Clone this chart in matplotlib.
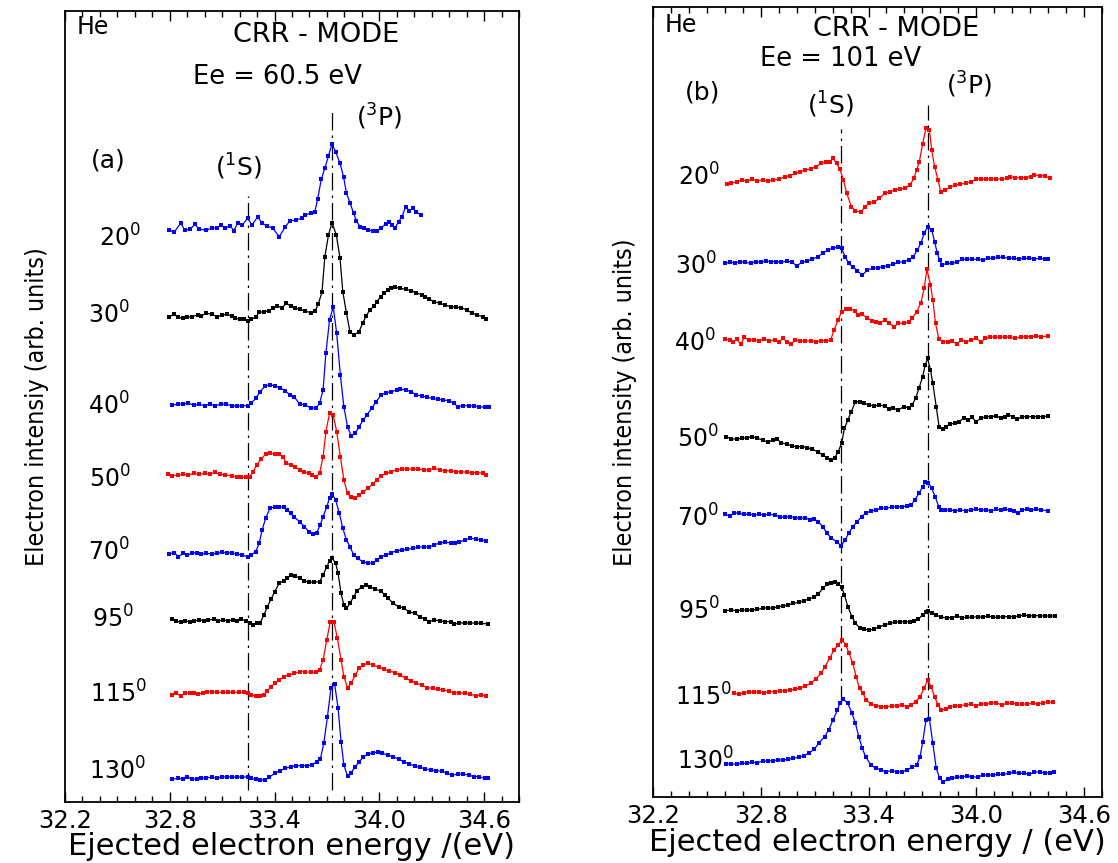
import matplotlib.pyplot as plt
from matplotlib.ticker import MultipleLocator, FormatStrFormatter

# ---------------- panel (a): Ee = 60.5 eV ----------------
a20_e = [32.798, 32.825, 32.862, 32.886, 32.917, 32.944, 32.969, 33.010, 33.041, 33.072,
         33.092, 33.119, 33.144, 33.168, 33.189, 33.215, 33.246, 33.271, 33.304, 33.329,
         33.359, 33.390, 33.427, 33.462, 33.489, 33.524, 33.555, 33.575, 33.606, 33.631,
         33.647, 33.668, 33.688, 33.709, 33.729, 33.750, 33.775, 33.795, 33.812, 33.832,
         33.853, 33.869, 33.890, 33.914, 33.935, 33.966, 33.986, 34.007, 34.038, 34.058,
         34.073, 34.089, 34.110, 34.130, 34.151, 34.171, 34.192, 34.212, 34.237]
a20_i = [633, 630.7, 639.7, 633, 633.7, 638.7, 633.7, 633, 634.7, 635.3,
         638, 634.7, 637.3, 632.3, 640.3, 638, 644.7, 638, 646.3, 639.7,
         637, 634.7, 626.3, 636.3, 642.3, 643, 644.7, 648, 649.7, 651.3,
         664, 684, 694.7, 707.3, 719, 711.3, 699.7, 686.3, 669.7, 660.3,
         649.7, 642, 636.3, 634.7, 633, 632, 632, 634.7, 639, 641.3,
         638, 634.7, 641.3, 646.3, 656.3, 652.3, 654.7, 651.3, 648]

a30_e = [32.798, 32.825, 32.850, 32.876, 32.901, 32.928, 32.959, 32.979, 33.010, 33.041, 33.072,
         33.098, 33.127, 33.154, 33.174, 33.201, 33.226, 33.246, 33.267, 33.292,
         33.312, 33.339, 33.366, 33.390, 33.415, 33.442, 33.468, 33.493, 33.518, 33.544,
         33.575, 33.606, 33.633, 33.651, 33.672, 33.688, 33.709, 33.729, 33.754, 33.775,
         33.791, 33.812, 33.832, 33.853, 33.884, 33.904, 33.925, 33.945, 33.970, 33.986,
         34.007, 34.027, 34.048, 34.068, 34.089, 34.120, 34.151, 34.182, 34.213, 34.243,
         34.264, 34.284, 34.315, 34.346, 34.377, 34.408, 34.439, 34.470, 34.501, 34.531,
         34.562, 34.593, 34.613]
a30_i = [546.3, 548.7, 545.7, 544.7, 545.7, 546.3, 548, 547, 549.7, 548.7, 546.3,
         548, 548.7, 547, 544.7, 544, 543.7, 542.3, 544, 545.7,
         550.7, 551.3, 552, 554.7, 557, 555.3, 559.7, 557, 554.7, 553.7,
         552, 550.3, 552.3, 559, 571.3, 606.3, 628, 640.3, 628, 604.7,
         571.3, 549.7, 531.3, 528, 531.3, 539.7, 547, 553, 557, 561.3,
         566.3, 569.7, 573, 574.7, 575.7, 574.7, 573.7, 572.3, 570.3, 568,
         565.7, 563.7, 561.3, 559.7, 558, 556.3, 555.7, 555.3, 553, 549.7,
         548, 546.3, 544]

a40_e = [32.810, 32.845, 32.876, 32.907, 32.938, 32.969, 32.999, 33.030, 33.061, 33.092,
         33.123, 33.154, 33.185, 33.215, 33.246, 33.267, 33.292, 33.318, 33.345, 33.374,
         33.401, 33.431, 33.462, 33.489, 33.514, 33.544, 33.575, 33.606, 33.637, 33.658,
         33.678, 33.694, 33.715, 33.736, 33.756, 33.777, 33.797, 33.818, 33.838, 33.863,
         33.884, 33.908, 33.929, 33.956, 33.982, 34.011, 34.038, 34.069, 34.099, 34.120,
         34.151, 34.182, 34.213, 34.243, 34.274, 34.305, 34.336, 34.367, 34.398, 34.428,
         34.449, 34.480, 34.511, 34.542, 34.572, 34.603, 34.628]
a40_i = [458, 458.7, 459, 459.7, 458, 458.7, 457.3, 458.7, 457.3, 459,
         458.7, 457.3, 457, 457.3, 457.3, 459.7, 464.7, 471.3, 477, 478,
         477.3, 475.3, 472, 468, 465.7, 459, 458, 455.3, 454.7, 459.7,
         473, 509.7, 543, 556.3, 529.7, 488, 456.3, 436.3, 427.3, 429.7,
         436.3, 443, 448, 454.7, 461.3, 468, 470.3, 471.3, 473, 474,
         473, 471.3, 468, 467, 465.7, 464.7, 463.7, 463, 462.3, 459.7,
         456.3, 457.3, 457.3, 457, 456.3, 455.7, 455.7]

a50_e = [32.790, 32.815, 32.845, 32.876, 32.907, 32.938, 32.969, 32.999, 33.030, 33.057,
         33.086, 33.119, 33.154, 33.185, 33.209, 33.236, 33.257, 33.277, 33.298, 33.324,
         33.349, 33.374, 33.401, 33.427, 33.448, 33.468, 33.493, 33.518, 33.544, 33.571,
         33.596, 33.616, 33.637, 33.658, 33.678, 33.694, 33.715, 33.736, 33.756, 33.777,
         33.797, 33.818, 33.838, 33.863, 33.884, 33.908, 33.935, 33.962, 33.986, 34.011,
         34.038, 34.069, 34.099, 34.130, 34.161, 34.192, 34.223, 34.254, 34.284, 34.315,
         34.346, 34.377, 34.408, 34.439, 34.470, 34.501, 34.531, 34.562, 34.593, 34.613]
a50_i = [388.7, 387.3, 388, 388.7, 388, 389.7, 388.7, 389.7, 388.7, 390.7,
         388.7, 388, 387.3, 386.3, 385.7, 385.7, 386.3, 391.3, 398, 404,
         409, 409.7, 409, 409, 406.3, 399.7, 398, 395.7, 393, 390.7,
         389.7, 388, 385.7, 389.7, 406.3, 431.3, 449.7, 448, 431.3, 406.3,
         383, 369.7, 365.7, 364.7, 368, 371.3, 374.7, 379, 383, 387,
         389.7, 391.3, 393, 394, 394, 393.7, 394, 393, 393, 394.7,
         393, 392.3, 392, 391.3, 391.3, 390.7, 390.3, 390.3, 389.7, 388]

a70_e = [32.798, 32.825, 32.850, 32.876, 32.901, 32.928, 32.954, 32.979, 33.010, 33.041,
         33.072, 33.098, 33.127, 33.154, 33.185, 33.215, 33.246, 33.267, 33.292, 33.312,
         33.329, 33.349, 33.374, 33.401, 33.427, 33.452, 33.472, 33.493, 33.514, 33.544,
         33.571, 33.596, 33.621, 33.641, 33.662, 33.678, 33.699, 33.715, 33.729, 33.750,
         33.771, 33.791, 33.812, 33.832, 33.853, 33.877, 33.904, 33.935, 33.966, 33.986,
         34.007, 34.038, 34.069, 34.099, 34.130, 34.161, 34.192, 34.223, 34.254, 34.284,
         34.315, 34.346, 34.377, 34.408, 34.435, 34.459, 34.490, 34.521, 34.552, 34.583,
         34.613]
a70_i = [309, 310.3, 306.3, 309.7, 308, 309.7, 310.3, 309, 309.7, 309,
         309.7, 310.7, 310.3, 309.7, 309, 308, 306.3, 308, 311.3, 319.7,
         333, 344.7, 354.7, 356.3, 356.3, 355.7, 353, 349.7, 345.7, 341.3,
         336.3, 331.3, 329, 330.3, 338, 346.3, 356.3, 364.7, 369, 363,
         349.7, 334.7, 323, 316.3, 308, 304.7, 301.3, 299.7, 300.3, 303,
         306.3, 308, 310.3, 312.3, 313, 313.7, 314.7, 315.7, 316.3, 316.3,
         318, 320.3, 320.7, 320.3, 319.7, 321.3, 323, 324.7, 324, 323,
         322.3]

a95_e = [32.810, 32.835, 32.862, 32.886, 32.913, 32.938, 32.969, 32.996, 33.020, 33.051,
         33.078, 33.102, 33.133, 33.160, 33.185, 33.209, 33.236, 33.257, 33.277, 33.298,
         33.318, 33.339, 33.359, 33.380, 33.401, 33.427, 33.452, 33.472, 33.493, 33.518,
         33.544, 33.571, 33.596, 33.627, 33.658, 33.678, 33.699, 33.715, 33.731, 33.750,
         33.764, 33.781, 33.797, 33.812, 33.832, 33.853, 33.873, 33.900, 33.925, 33.949,
         33.976, 34.007, 34.032, 34.052, 34.079, 34.110, 34.141, 34.171, 34.202, 34.233,
         34.264, 34.284, 34.315, 34.346, 34.377, 34.408, 34.428, 34.459, 34.490, 34.521,
         34.552, 34.583, 34.624]
a95_i = [243.7, 242, 240.7, 242, 241.3, 242, 243, 242.3, 243, 243.7,
         242, 243, 242.3, 243, 242.3, 243.7, 242.3, 240.3, 238, 239.7,
         240.3, 248, 256.3, 263.7, 271.3, 279.7, 282.3, 284.7, 288, 287,
         284.7, 282.3, 280.7, 280.7, 281.3, 288, 296.3, 302, 304.7, 299.7,
         289.7, 269.7, 258, 254.7, 259.7, 266.3, 272.3, 276.3, 278, 276.3,
         273.7, 272.3, 268, 264.7, 259.7, 256.3, 254.7, 251.3, 249.7, 246.3,
         243.7, 241.3, 243, 242.3, 241.3, 241.3, 238.7, 240.3, 239.7, 240.3,
         239.7, 239.7, 239]

a115_e = [32.810, 32.835, 32.862, 32.886, 32.913, 32.938, 32.963, 32.989, 33.016, 33.041,
          33.072, 33.102, 33.133, 33.164, 33.195, 33.226, 33.246, 33.267, 33.292, 33.318,
          33.339, 33.359, 33.380, 33.401, 33.427, 33.452, 33.483, 33.514, 33.544, 33.575,
          33.606, 33.637, 33.658, 33.678, 33.699, 33.719, 33.740, 33.760, 33.781, 33.797,
          33.818, 33.838, 33.863, 33.884, 33.908, 33.935, 33.966, 33.997, 34.027, 34.058,
          34.089, 34.120, 34.151, 34.182, 34.212, 34.243, 34.274, 34.305, 34.336, 34.367,
          34.398, 34.428, 34.459, 34.490, 34.521, 34.552, 34.583, 34.613]
a115_i = [168, 169.7, 167.3, 169.7, 170.3, 169.7, 168.7, 170.3, 171.3, 171.3,
          170.7, 170.7, 170.7, 170.7, 170.7, 170.7, 169.7, 168, 167, 167,
          168, 172, 176.3, 179.7, 183, 186.3, 188, 189.7, 191.3, 191.3,
          190.7, 190.7, 193, 203, 223, 241.3, 241.3, 224.7, 203, 186.3,
          175.3, 179.7, 188, 194.7, 198, 199.7, 198, 195.7, 193.7, 192,
          190.3, 188, 184.7, 182.3, 179.7, 178, 175.3, 174.7, 173.7, 173,
          172, 170.3, 170.3, 169.7, 168.7, 167.3, 168, 167]

a130_e = [32.810, 32.845, 32.876, 32.901, 32.928, 32.954, 32.979, 33.010, 33.041, 33.072,
          33.098, 33.127, 33.154, 33.185, 33.215, 33.246, 33.267, 33.292, 33.318, 33.345,
          33.370, 33.401, 33.431, 33.462, 33.493, 33.524, 33.555, 33.586, 33.616, 33.641,
          33.662, 33.682, 33.703, 33.723, 33.744, 33.764, 33.781, 33.797, 33.818, 33.838,
          33.863, 33.884, 33.908, 33.935, 33.966, 33.990, 34.017, 34.048, 34.079, 34.110,
          34.141, 34.171, 34.202, 34.233, 34.264, 34.295, 34.326, 34.357, 34.387, 34.418,
          34.449, 34.480, 34.511, 34.542, 34.572, 34.603, 34.624]
a130_i = [83.7, 84.7, 84, 85.7, 84, 84, 84.7, 85.3, 85.7, 84.7,
          86.3, 85.7, 86.3, 85.7, 86.3, 85.7, 84.7, 83.7, 83, 83,
          85.7, 89.7, 92.3, 94.7, 96.3, 97.3, 97.3, 97.3, 98, 101.3,
          103.7, 119.7, 146.3, 174.7, 179, 154.7, 121.3, 98, 87, 90.3,
          96.3, 101.3, 105.7, 109, 110.3, 110.7, 109.7, 108, 106.3, 103.7,
          101.3, 99, 97, 95.7, 94, 93, 92.3, 92, 89.7, 88,
          88.7, 89, 88, 86.3, 86.3, 84.7, 84.7]

# ---------------- panel (b): Ee = 101 eV ----------------
b20_e = [32.614, 32.637, 32.666, 32.695, 32.724, 32.752, 32.781, 32.810, 32.838, 32.867,
         32.902, 32.934, 32.963, 32.992, 33.020, 33.049, 33.078, 33.107, 33.135, 33.164,
         33.183, 33.202, 33.222, 33.241, 33.260, 33.279, 33.304, 33.327, 33.356, 33.381,
         33.404, 33.432, 33.461, 33.490, 33.519, 33.547, 33.576, 33.605, 33.630, 33.653,
         33.668, 33.683, 33.701, 33.720, 33.739, 33.752, 33.768, 33.787, 33.802, 33.825,
         33.854, 33.883, 33.911, 33.940, 33.969, 33.998, 34.026, 34.055, 34.084, 34.112,
         34.141, 34.170, 34.189, 34.218, 34.247, 34.275, 34.304, 34.323, 34.352, 34.381,
         34.409]
b20_i = [679, 679.7, 681.3, 683, 682, 683.7, 682, 683, 682, 683,
         683.7, 686.3, 687.3, 689.7, 691.3, 693, 694, 696.3, 699.7, 700.7,
         701.3, 704.7, 699.7, 693.7, 683, 669.7, 656.3, 652.3, 650.7, 656.3,
         659.7, 661.3, 664.7, 669.7, 671.3, 673, 674, 674.7, 678, 684.7,
         693, 701.3, 719, 734.7, 733, 713, 696.3, 683, 671.3, 673,
         675.7, 678, 679, 679.7, 681.3, 683.7, 684, 684, 684, 684,
         684, 684.7, 686.3, 685.3, 685.3, 685.3, 686.3, 688, 687.3, 687.3,
         684.7]

b30_e = [32.603, 32.628, 32.656, 32.685, 32.714, 32.743, 32.771, 32.800, 32.829, 32.858,
         32.886, 32.915, 32.944, 32.973, 33.001, 33.030, 33.059, 33.088, 33.116, 33.145,
         33.174, 33.202, 33.231, 33.250, 33.270, 33.289, 33.312, 33.337, 33.365, 33.394,
         33.423, 33.452, 33.480, 33.509, 33.538, 33.566, 33.595, 33.624, 33.649, 33.672,
         33.691, 33.710, 33.729, 33.752, 33.768, 33.783, 33.796, 33.810, 33.835, 33.863,
         33.892, 33.921, 33.950, 33.978, 34.007, 34.036, 34.065, 34.093, 34.122, 34.151,
         34.180, 34.208, 34.237, 34.266, 34.294, 34.323, 34.352, 34.381, 34.400]
b30_i = [599.7, 600.7, 600.3, 601.3, 600.7, 599.7, 601.3, 600.7, 602, 601.3,
         601.3, 600.7, 602, 600.7, 597.3, 600.7, 602, 603.7, 606.3, 609.7,
         613, 614.7, 616.3, 614.7, 606.3, 599.7, 596.3, 592.3, 588, 593,
         594.7, 595.3, 596.3, 597.3, 598.7, 600.7, 601.3, 603, 606.3, 613,
         619.7, 629.7, 636.3, 633, 621.3, 609.7, 603, 598, 599.7, 599.7,
         600.7, 603.7, 603.7, 603.7, 603.7, 603, 604.7, 604.7, 605.7, 605.7,
         604.7, 604.7, 604, 604.7, 604.7, 604, 604.7, 604, 603.7]

b40_e = [32.603, 32.628, 32.647, 32.666, 32.689, 32.708, 32.733, 32.762, 32.791, 32.819,
         32.848, 32.877, 32.902, 32.925, 32.944, 32.967, 32.992, 33.020, 33.049, 33.078,
         33.107, 33.135, 33.164, 33.189, 33.208, 33.231, 33.250, 33.273, 33.298, 33.323,
         33.342, 33.365, 33.394, 33.419, 33.442, 33.465, 33.490, 33.515, 33.542, 33.566,
         33.595, 33.624, 33.643, 33.668, 33.691, 33.710, 33.725, 33.745, 33.758, 33.773,
         33.792, 33.815, 33.840, 33.863, 33.892, 33.917, 33.940, 33.969, 33.998, 34.026,
         34.051, 34.078, 34.103, 34.131, 34.160, 34.189, 34.218, 34.247, 34.275, 34.304,
         34.333, 34.362, 34.400]
b40_i = [524, 523, 521.3, 523.7, 518.7, 525.7, 523, 523, 522.3, 523.7,
         522.3, 523, 521.3, 524.7, 521.3, 519, 523, 522, 522, 522,
         521.3, 522.3, 522, 523, 533, 543, 551.3, 553.7, 554, 552.3,
         548, 548.7, 544.7, 542.3, 541.3, 540.3, 543, 539.7, 536.3, 539.7,
         539.7, 540.7, 544.7, 551.3, 559.7, 574.7, 593.7, 578, 563, 539.7,
         523.7, 521.3, 521.3, 522, 519, 523, 521.3, 523, 524.7, 521.3,
         524.7, 525.7, 526.3, 525.7, 526.3, 525.7, 524.7, 525.7, 526.3, 526.3,
         527, 526.3, 527]

b50_e = [32.609, 32.637, 32.666, 32.695, 32.724, 32.752, 32.781, 32.810, 32.838, 32.867,
         32.890, 32.915, 32.944, 32.973, 33.001, 33.030, 33.059, 33.088, 33.116, 33.145,
         33.170, 33.193, 33.212, 33.231, 33.250, 33.266, 33.285, 33.304, 33.327, 33.350,
         33.375, 33.404, 33.432, 33.461, 33.490, 33.515, 33.538, 33.566, 33.595, 33.624,
         33.643, 33.662, 33.681, 33.701, 33.716, 33.729, 33.745, 33.758, 33.777, 33.793,
         33.812, 33.831, 33.854, 33.879, 33.902, 33.931, 33.955, 33.978, 33.998, 34.026,
         34.055, 34.084, 34.112, 34.135, 34.160, 34.179, 34.204, 34.227, 34.256, 34.285,
         34.314, 34.342, 34.371, 34.400]
b50_i = [426.3, 424, 424, 424.7, 425.3, 426.3, 424.7, 423, 420.7, 423,
         423.7, 420.3, 418.7, 417.3, 416.3, 416.3, 415.3, 413.7, 411.3, 408,
         405.3, 403, 405.3, 411.3, 419.7, 434.7, 443, 451.3, 461.3, 461.3,
         459.7, 458, 457, 458, 457, 454, 454.7, 453, 456.3, 455.3,
         458, 464.7, 474.7, 486.3, 498, 504.7, 493, 479.7, 456.3, 436.3,
         433.7, 436.3, 439, 439.7, 441.3, 444.7, 443, 445.7, 441.3, 444.7,
         446.3, 446.3, 447.3, 444.7, 446.3, 448, 446.3, 443.7, 446.3, 446.3,
         446.3, 446.3, 446.3, 447]

b70_e = [32.603, 32.628, 32.653, 32.679, 32.704, 32.733, 32.762, 32.791, 32.819, 32.848,
         32.877, 32.906, 32.934, 32.963, 32.992, 33.020, 33.049, 33.074, 33.097, 33.120,
         33.145, 33.170, 33.193, 33.222, 33.247, 33.270, 33.289, 33.312, 33.337, 33.361,
         33.384, 33.413, 33.442, 33.471, 33.499, 33.528, 33.557, 33.586, 33.614, 33.637,
         33.657, 33.681, 33.701, 33.716, 33.733, 33.752, 33.771, 33.791, 33.806, 33.825,
         33.854, 33.883, 33.911, 33.940, 33.969, 33.998, 34.026, 34.055, 34.084, 34.112,
         34.135, 34.160, 34.189, 34.212, 34.231, 34.256, 34.281, 34.304, 34.333, 34.362,
         34.400]
b70_i = [348.7, 347, 350.3, 349.7, 348.7, 349, 348, 348.7, 348, 348.7,
         348, 346.3, 345.7, 346.3, 345.3, 344.7, 345.3, 343, 344, 341.3,
         336.3, 329.7, 324.7, 321.3, 317.3, 323, 329.7, 336.3, 341.3, 346.3,
         349.7, 352, 353, 354.7, 354.7, 355.7, 356.3, 356.3, 357, 358,
         363, 369.7, 376.3, 381.3, 380.3, 374.7, 366.3, 356.3, 353, 353,
         353, 352.3, 353, 352.3, 353, 353.7, 353, 353, 352.3, 353.7,
         353, 353.7, 353, 352.3, 349.7, 353, 353.7, 353, 353.7, 353,
         352.3]

b95_e = [32.603, 32.637, 32.666, 32.695, 32.724, 32.752, 32.781, 32.810, 32.838, 32.867,
         32.896, 32.925, 32.953, 32.982, 33.011, 33.040, 33.068, 33.097, 33.120, 33.145,
         33.170, 33.193, 33.212, 33.231, 33.250, 33.266, 33.285, 33.308, 33.327, 33.350,
         33.375, 33.404, 33.432, 33.461, 33.490, 33.519, 33.547, 33.576, 33.605, 33.630,
         33.653, 33.676, 33.701, 33.720, 33.733, 33.752, 33.777, 33.806, 33.835, 33.863,
         33.892, 33.921, 33.950, 33.978, 34.007, 34.036, 34.065, 34.093, 34.122, 34.151,
         34.180, 34.208, 34.237, 34.266, 34.294, 34.323, 34.352, 34.381, 34.409, 34.438]
b95_i = [252.3, 253, 252.3, 253, 253, 253, 253.7, 254.7, 255.3, 254.7,
         256.3, 257, 258, 259.7, 260.7, 262.3, 264, 265.7, 268.7, 274.7,
         278.7, 279.7, 281.3, 279, 276.3, 268, 256.3, 246.3, 239.7, 235.3,
         233.7, 233, 234, 236.3, 238, 239.7, 240.7, 241.3, 241.3, 241.3,
         242, 243.7, 248, 251.3, 252.3, 249.7, 248, 245.7, 245.3, 245.3,
         247, 245.3, 245.7, 245.7, 246.3, 245.7, 247, 245.7, 245.7, 246.3,
         246.3, 246.3, 247, 248, 247, 247.3, 247.3, 247, 247, 247]

b115_e = [32.653, 32.679, 32.704, 32.733, 32.762, 32.791, 32.819, 32.848, 32.877, 32.906,
          32.934, 32.963, 32.992, 33.020, 33.049, 33.078, 33.107, 33.135, 33.158, 33.183,
          33.208, 33.231, 33.254, 33.273, 33.292, 33.312, 33.331, 33.350, 33.369, 33.388,
          33.413, 33.442, 33.471, 33.499, 33.528, 33.557, 33.586, 33.614, 33.637, 33.662,
          33.687, 33.710, 33.729, 33.748, 33.768, 33.787, 33.806, 33.829, 33.854, 33.883,
          33.911, 33.940, 33.969, 33.998, 34.026, 34.055, 34.084, 34.112, 34.141, 34.170,
          34.199, 34.227, 34.256, 34.285, 34.314, 34.342, 34.371, 34.400, 34.429]
b115_i = [169.7, 168.7, 170.3, 171.3, 170.7, 171.3, 170.3, 171.3, 171.3, 172,
          172.3, 173, 173.7, 175.3, 177, 179.7, 184, 189.7, 196.3, 204.7,
          213, 218, 223, 218, 209.7, 199.7, 186.3, 174.7, 169.7, 163,
          158.7, 157.3, 156.3, 156.3, 157, 157.3, 158, 156.3, 158, 161.3,
          166.3, 174.7, 183, 176.3, 166.3, 158, 153, 154, 156.3, 157.3,
          157.3, 158, 159, 157.3, 159, 159, 159.7, 160.3, 158, 159.7,
          159.7, 159, 159, 159, 159.7, 159, 160.3, 160.7, 160.7]

b130_e = [32.608, 32.637, 32.666, 32.695, 32.724, 32.752, 32.781, 32.810, 32.838, 32.867,
          32.896, 32.925, 32.953, 32.982, 33.011, 33.040, 33.068, 33.097, 33.126, 33.155,
          33.178, 33.202, 33.227, 33.241, 33.260, 33.285, 33.308, 33.327, 33.346, 33.365,
          33.384, 33.413, 33.442, 33.471, 33.499, 33.528, 33.557, 33.586, 33.614, 33.643,
          33.668, 33.687, 33.702, 33.720, 33.739, 33.758, 33.777, 33.796, 33.815, 33.840,
          33.863, 33.892, 33.921, 33.950, 33.978, 34.007, 34.036, 34.065, 34.093, 34.122,
          34.151, 34.180, 34.208, 34.237, 34.266, 34.294, 34.323, 34.352, 34.381, 34.409,
          34.434]
b130_i = [99, 99, 98.7, 99.7, 99.7, 100.7, 100.3, 102, 102, 102.3,
          103, 103, 103.7, 104.7, 105.7, 107.3, 109.7, 113.7, 120.3, 126.3,
          133, 143, 153, 160.3, 163.7, 159.7, 149.7, 139.7, 126.3, 114.7,
          106.3, 98, 94.7, 93, 91.3, 92.3, 91.3, 91.3, 93, 95.7,
          98, 106.3, 121.3, 143, 144, 119.7, 94.7, 84.7, 81.3, 83.7,
          84.7, 85.7, 86.3, 87, 86.3, 85.7, 88, 88, 88, 88.7,
          88.7, 89.7, 90.7, 89.7, 89.7, 88.7, 90.7, 91.3, 89.7, 90.3,
          91.3]

angles = ['20', '30', '40', '50', '70', '95', '115', '130']
a_curves = [(a20_e, a20_i), (a30_e, a30_i), (a40_e, a40_i), (a50_e, a50_i),
            (a70_e, a70_i), (a95_e, a95_i), (a115_e, a115_i), (a130_e, a130_i)]
b_curves = [(b20_e, b20_i), (b30_e, b30_i), (b40_e, b40_i), (b50_e, b50_i),
            (b70_e, b70_i), (b95_e, b95_i), (b115_e, b115_i), (b130_e, b130_i)]
a_colors = ['blue', 'black', 'blue', 'red', 'blue', 'black', 'red', 'blue']
b_colors = ['red', 'blue', 'red', 'black', 'blue', 'black', 'red', 'blue']

# resonance positions (1S, 3P) in eV
res_e = [33.246, 33.729]
xticks = [32.2, 32.8, 33.4, 34.0, 34.6]

# ---------------- layout ----------------
a_lab_x = [32.393, 32.332, 32.332, 32.337, 32.332, 32.352, 32.343, 32.337]
a_lab_y = [616, 539, 448, 375, 302, 235, 160, 83]
b_lab_x = [32.339, 32.322, 32.317, 32.331, 32.331, 32.339, 32.322, 32.333]
b_lab_y = [677, 588, 511, 415, 336, 243, 157, 93]

fig = plt.figure(figsize=(11.18, 8.63), dpi=100)
ax_a = fig.add_axes([0.05814, 0.07103, 0.40608, 0.91622])
ax_b = fig.add_axes([0.58408, 0.0759, 0.40161, 0.9160])


def setup(ax, xmax, ylo, yhi, xlabel, ylabel):
    ax.set_xlim(32.2, xmax)
    ax.set_ylim(ylo, yhi)
    ax.set_yticks([])
    ax.set_xticks(xticks)
    ax.xaxis.set_minor_locator(MultipleLocator(0.1))
    ax.xaxis.set_major_formatter(FormatStrFormatter('%.1f'))
    ax.tick_params(axis='x', which='both', direction='in', top=True, width=1)
    ax.tick_params(axis='x', which='major', length=7, labelsize=17.5, pad=5)
    ax.tick_params(axis='x', which='minor', length=4)
    for s in ax.spines.values():
        s.set_linewidth(1.3)
    ax.set_xlabel(xlabel, fontsize=22)
    ax.xaxis.set_label_coords(0.5, -0.038)
    ax.set_ylabel(ylabel, fontsize=18, family='DejaVu Sans', fontstretch='condensed')
    ax.yaxis.set_label_coords(-0.036, 0.5)


setup(ax_a, 34.8, 61.3, 852, 'Ejected electron energy /(eV)',
      'Electron intensiy (arb. units)')
setup(ax_b, 34.7, 65.5, 856, 'Ejected electron energy / (eV)',
      'Electron intensity (arb. units)')

dash = (0, (14, 4, 2, 4))
ax_a.vlines(res_e[0], 73, 667, color='black', lw=0.9, linestyles=[dash], zorder=1)
ax_a.vlines(res_e[1], 73, 755, color='black', lw=0.9, linestyles=[dash], zorder=1)
ax_b.vlines(res_e[0], 160, 734, color='black', lw=0.9, linestyles=[dash], zorder=1)
ax_b.vlines(res_e[1], 143, 758, color='black', lw=0.9, linestyles=[dash], zorder=1)

for (e, i), c in zip(a_curves, a_colors):
    ax_a.plot(e, i, color=c, lw=0.9, marker='s', ms=2.2, mew=0, zorder=2)
for (e, i), c in zip(b_curves, b_colors):
    ax_b.plot(e, i, color=c, lw=0.9, marker='s', ms=2.2, mew=0, zorder=2)

for ang, x, y in zip(angles, a_lab_x, a_lab_y):
    ax_a.text(x, y, ang + '$^{0}$', fontsize=17, ha='left', va='baseline')
for ang, x, y in zip(angles, b_lab_x, b_lab_y):
    ax_b.text(x, y, ang + '$^{0}$', fontsize=17, ha='left', va='baseline')

# annotations, panel (a)
ax_a.text(32.269, 836, 'He', fontsize=17, ha='left', va='center')
ax_a.text(33.638, 828, 'CRR - MODE', fontsize=19.5, ha='center', va='center')
ax_a.text(33.414, 786, 'Ee = 60.5 eV', fontsize=18.5, ha='center', va='center')
ax_a.text(33.998, 746, '($^{3}$P)', fontsize=18, ha='center', va='center')
ax_a.text(32.446, 703, '(a)', fontsize=18, ha='center', va='center')
ax_a.text(33.197, 696, '($^{1}$S)', fontsize=18, ha='center', va='center')

# annotations, panel (b)
ax_b.text(32.264, 838, 'He', fontsize=17, ha='left', va='center')
ax_b.text(33.556, 833.7, 'CRR - MODE', fontsize=19.5, ha='center', va='center')
ax_b.text(33.244, 804, 'Ee = 101 eV', fontsize=18.5, ha='center', va='center')
ax_b.text(33.959, 778, '($^{3}$P)', fontsize=18, ha='center', va='center')
ax_b.text(32.474, 770.3, '(b)', fontsize=18, ha='center', va='center')
ax_b.text(33.189, 758, '($^{1}$S)', fontsize=18, ha='center', va='center')

plt.savefig('out.png', dpi=100)
